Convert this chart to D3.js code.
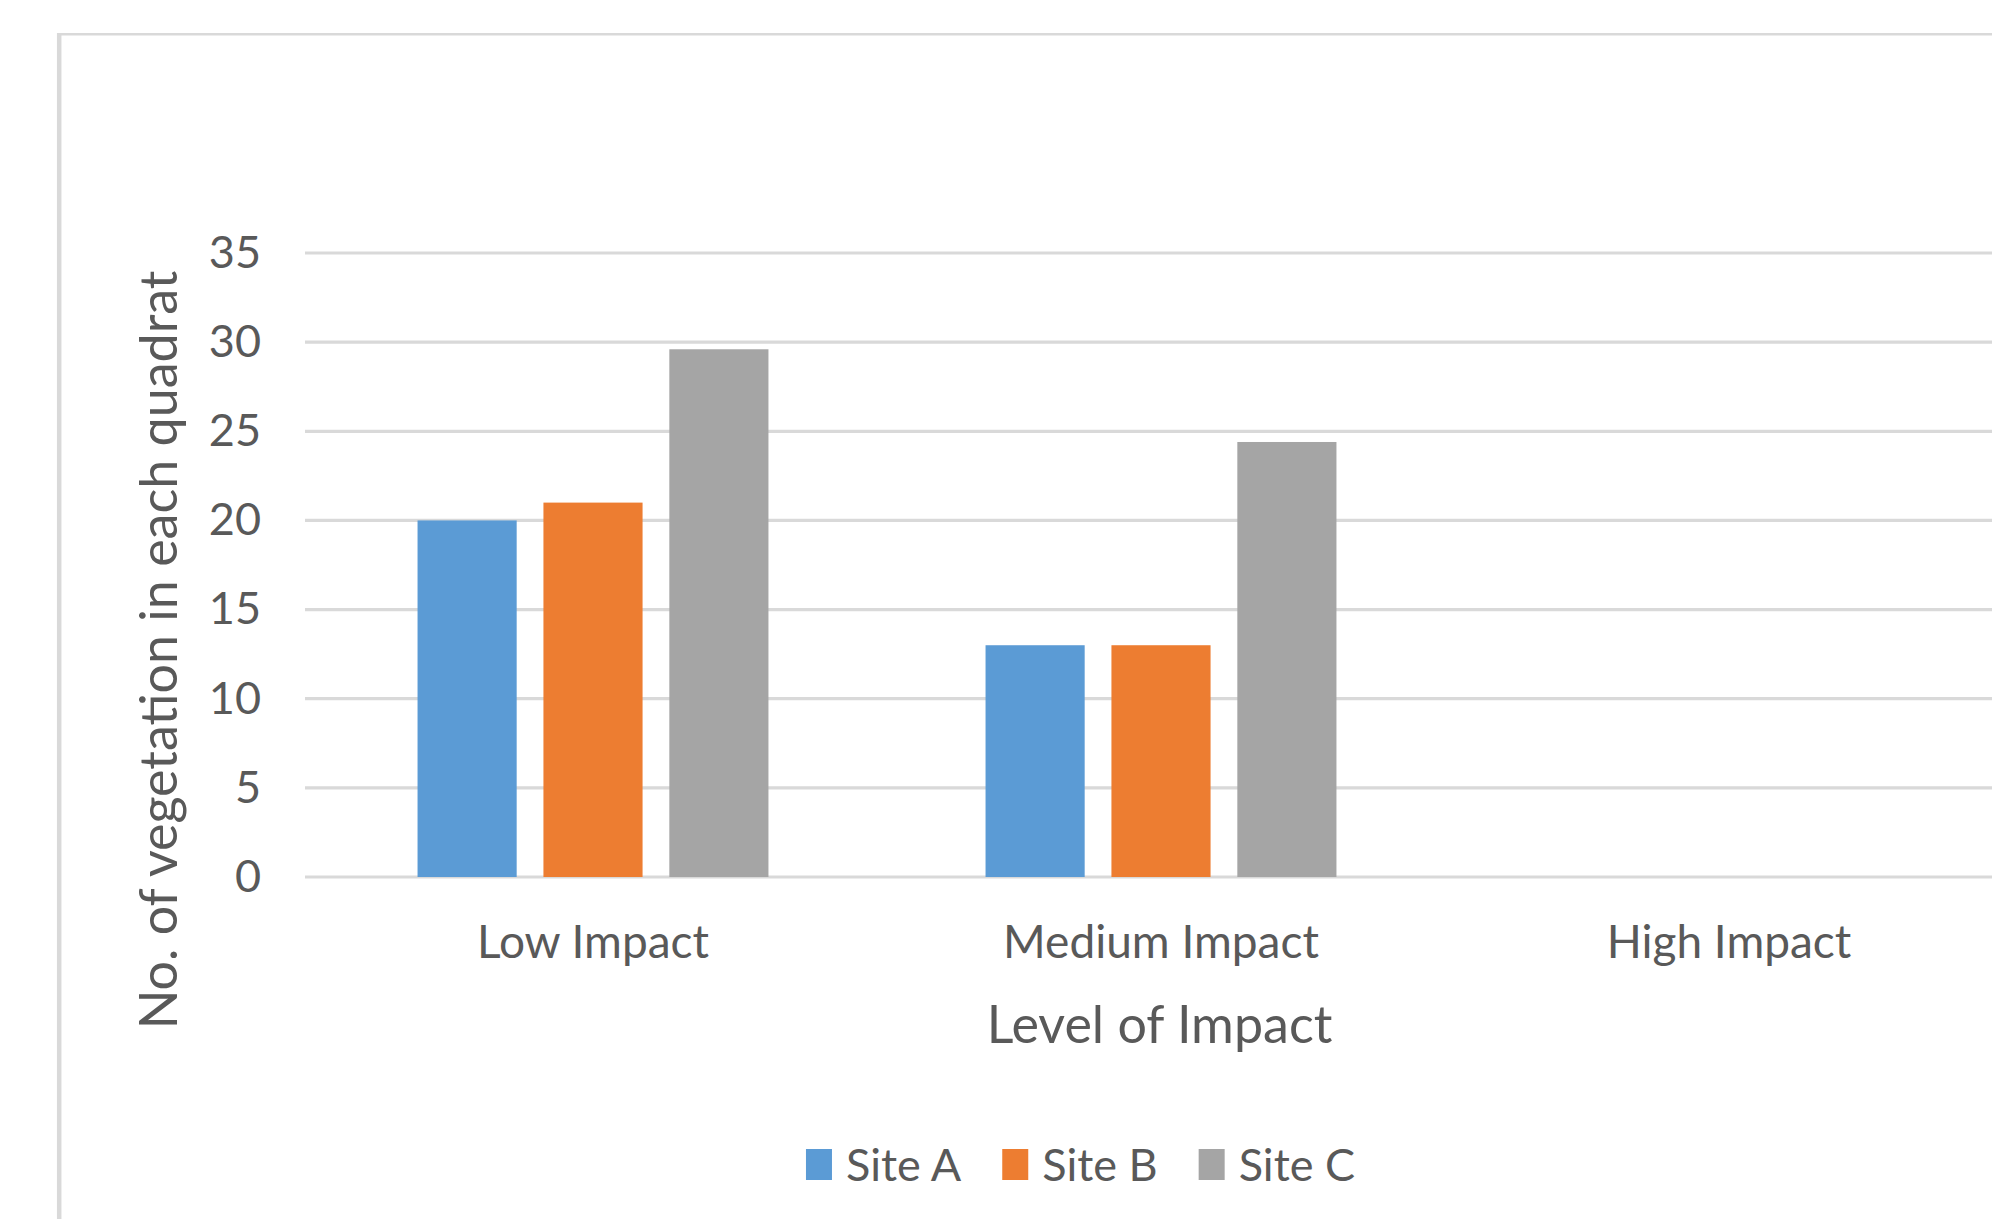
<!DOCTYPE html>
<html>
<head>
<meta charset="utf-8">
<script src="https://cdn.jsdelivr.net/npm/d3@7"></script>
<style>
  html, body { margin: 0; padding: 0; background: #ffffff; }
  svg { display: block; }
  text { font-family: Lato, "Open Sans", sans-serif; fill: #595959; }
</style>
</head>
<body>
<svg id="chart" width="1992" height="1219"></svg>
<script>
// Vegetation counts per quadrat, by level of impact and site
const categories = ["Low Impact", "Medium Impact", "High Impact"];
const seriesNames = ["Site A", "Site B", "Site C"];
const siteA = [20, 13, 0];
const siteB = [21, 13, 0];
const siteC = [29.6, 24.4, 0];
const yTicks = [0, 5, 10, 15, 20, 25, 30, 35];
const colors = ["#5b9bd5", "#ed7d31", "#a5a5a5"];

const seriesValues = [siteA, siteB, siteC];

const W = 1992, H = 1219;
const plot = { left: 309, right: 2013, top: 253, bottom: 877 };

const svg = d3.select("#chart");

// chart area border (continues past the right and bottom edges)
svg.append("line")
  .attr("x1", 57).attr("x2", W + 10)
  .attr("y1", 34.3).attr("y2", 34.3)
  .attr("stroke", "#d9d9d9").attr("stroke-width", 2.5);
svg.append("line")
  .attr("x1", 59.2).attr("x2", 59.2)
  .attr("y1", 33).attr("y2", H + 10)
  .attr("stroke", "#d9d9d9").attr("stroke-width", 4.5);

const y = d3.scaleLinear().domain([0, 35]).range([plot.bottom, plot.top]);
const x0 = d3.scaleBand().domain(categories).range([plot.left, plot.right]).padding(0);

// Excel-style spacing: 27% gap between series, 219% gap between groups
const seriesGap = 0.27, groupGap = 2.19;
const barW = x0.bandwidth() / (3 + 2 * seriesGap + groupGap);
const x1 = d3.scaleBand()
  .domain(seriesNames)
  .range([0, x0.bandwidth()])
  .paddingInner(seriesGap / (1 + seriesGap))
  .paddingOuter(((x0.bandwidth() / barW) / (1 + seriesGap) - (3 - seriesGap / (1 + seriesGap))) / 2);

// horizontal gridlines
svg.append("g")
  .selectAll("line")
  .data(yTicks)
  .join("line")
  .attr("x1", plot.left - 4).attr("x2", plot.right)
  .attr("y1", d => y(d)).attr("y2", d => y(d))
  .attr("stroke", "#d9d9d9").attr("stroke-width", 3.2);

// y axis tick labels
const yAxis = d3.axisLeft(y).tickValues(yTicks).tickSize(0).tickPadding(0);
const gy = svg.append("g").attr("transform", `translate(${plot.left - 48},0)`).call(yAxis);
gy.select(".domain").remove();
gy.selectAll("text")
  .attr("font-family", "Lato, sans-serif")
  .attr("font-size", 45)
  .attr("fill", "#595959")
  .attr("dy", "0.32em");

// x axis category labels
const xAxis = d3.axisBottom(x0).tickSize(0).tickPadding(0);
const gx = svg.append("g").attr("transform", `translate(0,${plot.bottom})`).call(xAxis);
gx.select(".domain").remove();
gx.selectAll("text")
  .attr("font-family", "Lato, sans-serif")
  .attr("font-size", 46)
  .attr("fill", "#595959")
  .attr("y", 81)
  .attr("dy", 0);

// bars
const groups = svg.append("g")
  .selectAll("g")
  .data(categories)
  .join("g")
  .attr("transform", c => `translate(${x0(c)},0)`);

groups.selectAll("rect")
  .data((c, i) => seriesNames.map((s, k) => ({ series: s, value: seriesValues[k][i], color: colors[k] })))
  .join("rect")
  .attr("x", d => x1(d.series))
  .attr("width", x1.bandwidth())
  .attr("y", d => y(d.value))
  .attr("height", d => y(0) - y(d.value))
  .attr("fill", d => d.color);

// axis titles
svg.append("text")
  .attr("x", 1159.5)
  .attr("y", 1043)
  .attr("text-anchor", "middle")
  .attr("font-size", 52)
  .text("Level of Impact");

svg.append("text")
  .attr("transform", "translate(177,650) rotate(-90)")
  .attr("text-anchor", "middle")
  .attr("font-size", 52)
  .text("No. of vegetation in each quadrat");

// legend
const legend = svg.append("g");
let lx = 0;
seriesNames.forEach((name, k) => {
  const item = legend.append("g").attr("transform", `translate(${lx},0)`);
  item.append("rect")
    .attr("x", 0).attr("y", -16)
    .attr("width", 26).attr("height", 31)
    .attr("fill", colors[k]);
  const t = item.append("text")
    .attr("x", 40).attr("y", 16)
    .attr("font-size", 45)
    .text(name);
  lx += 40 + t.node().getComputedTextLength() + 41;
});
const legendW = lx - 41;
legend.attr("transform", `translate(${1080.5 - legendW / 2},1165)`);
</script>
</body>
</html>
